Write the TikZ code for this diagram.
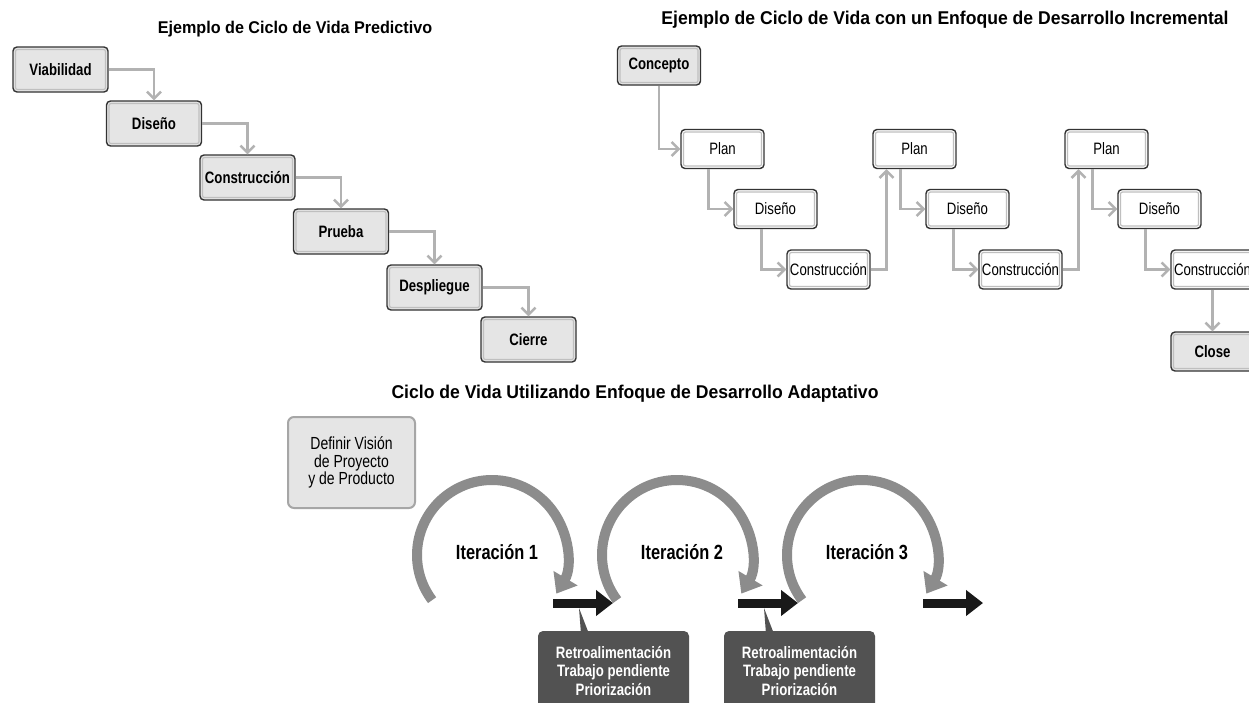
\documentclass[tikz,border=0pt]{standalone}
\usepackage{fontspec}
\setmainfont{Liberation Sans}[FakeStretch=0.8]
\newfontfamily\titlefont{Liberation Sans}[FakeStretch=0.95]
\usetikzlibrary{arrows.meta}

\begin{document}
\begin{tikzpicture}[x=1pt,y=-1pt,
  flow/.style={draw=black!30,line width=2.5pt,-{Straight Barb[length=7pt,width=14pt]}},
  bevel/.style={path picture={\draw[black!25,line width=1.2pt,rounded corners=2pt]
      ([shift={(2.5pt,2.5pt)}]path picture bounding box.south west) rectangle
      ([shift={(-2.5pt,-2.5pt)}]path picture bounding box.north east);}},
  phase/.style={draw=black!80,line width=1.4pt,rounded corners=4pt,fill=black!10,bevel,inner sep=2pt,
    minimum width=95pt,minimum height=45pt,font=\fontsize{16.5}{18}\selectfont\bfseries},
  inc/.style={draw=black!80,line width=1.4pt,rounded corners=4pt,fill=white,bevel,inner sep=2pt,
    minimum width=83pt,minimum height=39pt,font=\fontsize{16.5}{18}\selectfont},
  ttl/.style={font=\titlefont\fontsize{18.5}{20}\selectfont\bfseries},
  cyc/.style={draw=black!45,line width=10pt,-{Triangle[length=18pt,width=27pt]}},
  nxt/.style={draw=black!90,line width=9pt,-{Triangle[length=17pt,width=25pt]}},
  iter/.style={font=\fontsize{20.5}{22}\selectfont\bfseries},
  fb/.style={fill=black!68,text=white,rounded corners=5pt,align=center,minimum width=151pt,
    minimum height=80pt,font=\fontsize{16.5}{18.5}\selectfont\bfseries},
  vision/.style={draw=black!35,line width=2pt,fill=black!10,rounded corners=6pt,align=center,
    minimum width=127pt,minimum height=91pt,font=\fontsize{17.5}{17.5}\selectfont}]
\path[use as bounding box,fill=white] (0,0) rectangle (1249,702);

% predictivo
\node[ttl,font=\titlefont\fontsize{17}{19}\selectfont\bfseries] (t1) at (295,29) {Ejemplo de Ciclo de Vida Predictivo};
\node[phase] (via) at (60.5,69.5) {Viabilidad};
\node[phase] (dis) at (154,123.5) {Diseño};
\node[phase] (con) at (247.5,177.5) {Construcción};
\node[phase] (pru) at (341,231.5) {Prueba};
\node[phase] (des) at (434.5,287.5) {Despliegue};
\node[phase] (cie) at (528.5,339.5) {Cierre};
\draw[flow] (via.east) -| (dis.north);
\draw[flow] (dis.east) -| (con.north);
\draw[flow] (con.east) -| (pru.north);
\draw[flow] (pru.east) -| (des.north);
\draw[flow] (des.east) -| (cie.north);

% incremental
\node[ttl] (t2) at (945,20) {Ejemplo de Ciclo de Vida con un Enfoque de Desarrollo Incremental};
\node[inc,fill=black!10,font=\fontsize{16.5}{18}\selectfont\bfseries] (conc) at (659,65.5) {Concepto};
\node[inc] (p1) at (722.5,149) {Plan};
\node[inc] (d1) at (775.5,209) {Diseño};
\node[inc] (c1) at (828.5,269.5) {Construcción};
\node[inc] (p2) at (914.5,149) {Plan};
\node[inc] (d2) at (967.5,209) {Diseño};
\node[inc] (c2) at (1020.5,269.5) {Construcción};
\node[inc] (p3) at (1106.5,149) {Plan};
\node[inc] (d3) at (1159.5,209) {Diseño};
\node[inc] (c3) at (1212.5,269.5) {Construcción};
\node[inc,fill=black!10,font=\fontsize{16.5}{18}\selectfont\bfseries] (clo) at (1212.5,351.5) {Close};
\draw[flow] (conc.south) |- (p1.west);
\draw[flow] ([xshift=-14pt]p1.south) |- (d1.west);
\draw[flow] ([xshift=-14pt]d1.south) |- (c1.west);
\draw[flow] (c1.east) -| ([xshift=-28pt]p2.south);
\draw[flow] ([xshift=-14pt]p2.south) |- (d2.west);
\draw[flow] ([xshift=-14pt]d2.south) |- (c2.west);
\draw[flow] (c2.east) -| ([xshift=-28pt]p3.south);
\draw[flow] ([xshift=-14pt]p3.south) |- (d3.west);
\draw[flow] ([xshift=-14pt]d3.south) |- (c3.west);
\draw[flow] (c3.south) -- (clo.north);

% adaptativo
\node[ttl] (t3) at (635,394) {Ciclo de Vida Utilizando Enfoque de Desarrollo Adaptativo};
\node[vision] (vis) at (351.5,462.5) {Definir Visión\\de Proyecto\\y de Producto};
\draw[cyc] (492,555) ++(143:75) arc[start angle=143,end angle=391,radius=75];
\draw[cyc] (677,555) ++(143:75) arc[start angle=143,end angle=391,radius=75];
\draw[cyc] (862,555) ++(143:75) arc[start angle=143,end angle=391,radius=75];
\node[iter] (it1) at (497,552) {Iteración 1};
\node[iter] (it2) at (682,552) {Iteración 2};
\node[iter] (it3) at (867,552) {Iteración 3};
\draw[nxt] (553,603) -- (613,603);
\draw[nxt] (738,603) -- (798,603);
\draw[nxt] (923,603) -- (983,603);
\node[fb] (fb1) at (613.5,671) {Retroalimentación\\Trabajo pendiente\\Priorización};
\node[fb] (fb2) at (799.5,671) {Retroalimentación\\Trabajo pendiente\\Priorización};
\fill[black!68] (579,608) -- (589,634) -- (581,634) -- cycle;
\fill[black!68] (764,608) -- (774,634) -- (766,634) -- cycle;
\end{tikzpicture}
\end{document}
